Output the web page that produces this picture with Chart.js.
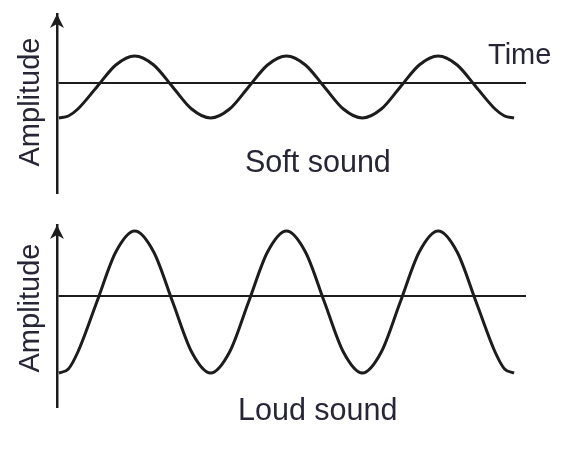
<!DOCTYPE html>
<html>
<head>
<meta charset="utf-8">
<script src="https://cdn.jsdelivr.net/npm/chart.js@4.4.1/dist/chart.umd.min.js"></script>
<style>
  body { margin: 0; background: #fff; width: 579px; height: 452px; overflow: hidden; }
  .panel { position: absolute; left: 0; width: 579px; }
  #soft-wrap { top: 0; height: 210px; }
  #loud-wrap { top: 211px; height: 220px; }
</style>
</head>
<body>
<div class="panel" id="soft-wrap"><canvas id="chart-soft"></canvas></div>
<div class="panel" id="loud-wrap"><canvas id="chart-loud"></canvas></div>
<script>
// time in eighths of a period, amplitude (px above the time line)
const time = [0, 0.5, 1, 2, 3, 4, 5, 6, 7, 8, 9, 10, 11, 12, 13, 14, 15, 16, 17, 18, 19, 20, 21, 22, 23, 23.5, 24];
const softWave = [-35, -33, -26, -4, 18, 27, 18, -4, -26, -35, -26, -4, 18, 27, 18, -4, -26, -35, -26, -4, 18, 27, 18, -4, -26, -33, -35];
const loudWave = [-77, -73, -56, -6, 44, 65, 44, -6, -56, -77, -56, -6, 44, 65, 44, -6, -56, -77, -56, -6, 44, 65, 44, -6, -56, -73, -77];
const axisLabel = 'Amplitude';
const timeLabel = 'Time';

const ink = '#1c1c1c';
const textColor = '#262636';
const fontFamily = '"Liberation Sans", Arial, sans-serif';

// arrow head on the y axis + free labels
const decor = {
  id: 'decor',
  afterDraw(chart, args, opts) {
    const { ctx, chartArea } = chart;
    const x = chartArea.left, y = chartArea.top;
    ctx.save();
    ctx.fillStyle = ink;
    ctx.beginPath();
    ctx.moveTo(x, y);
    ctx.lineTo(x + 7, y + 14);
    ctx.lineTo(x, y + 10);
    ctx.lineTo(x - 7, y + 14);
    ctx.closePath();
    ctx.fill();

    ctx.fillStyle = textColor;
    ctx.textBaseline = 'alphabetic';
    (opts.texts || []).forEach(t => {
      ctx.save();
      ctx.font = (t.size || 29) + 'px ' + fontFamily;
      ctx.translate(t.x, t.y);
      if (t.rotate) ctx.rotate(-Math.PI / 2);
      ctx.textAlign = t.align || 'left';
      ctx.fillText(t.text, 0, 0);
      ctx.restore();
    });
    ctx.restore();
  }
};

function makeWave(id, values, yMin, yMax, pad, texts) {
  const ctx = document.getElementById(id).getContext('2d');
  new Chart(ctx, {
    type: 'line',
    data: {
      labels: time,
      datasets: [{
        data: time.map((t, i) => ({ x: t, y: values[i] })),
        borderColor: ink,
        borderWidth: 3,
        pointRadius: 0,
        cubicInterpolationMode: 'monotone',
        fill: false
      }]
    },
    options: {
      responsive: true,
      maintainAspectRatio: false,
      animation: false,
      events: [],
      layout: { padding: pad },
      plugins: { legend: { display: false }, tooltip: { enabled: false }, decor: { texts } },
      scales: {
        x: { type: 'linear', min: -0.1, max: 24.63, display: false },
        y: {
          min: yMin, max: yMax,
          afterBuildTicks: s => { s.ticks = [{ value: 0 }]; },
          ticks: { display: false },
          grid: { color: ink, lineWidth: 2, drawTicks: false, tickLength: 0 },
          border: { display: true, color: ink, width: 2.5 }
        }
      }
    },
    plugins: [decor]
  });
}

makeWave('chart-soft', softWave, -110, 69, { left: 57, right: 53, top: 14, bottom: 17 }, [
  { text: axisLabel, x: 39, y: 102, rotate: true, align: 'center' },
  { text: timeLabel, x: 488, y: 64 },
  { text: 'Soft sound', x: 245, y: 172, size: 30.5 }
]);
makeWave('chart-loud', loudWave, -111, 71, { left: 57, right: 53, top: 14, bottom: 24 }, [
  { text: axisLabel, x: 39, y: 308 - 211, rotate: true, align: 'center' },
  { text: 'Loud sound', x: 238, y: 420 - 211, size: 30.5 }
]);
</script>
</body>
</html>
